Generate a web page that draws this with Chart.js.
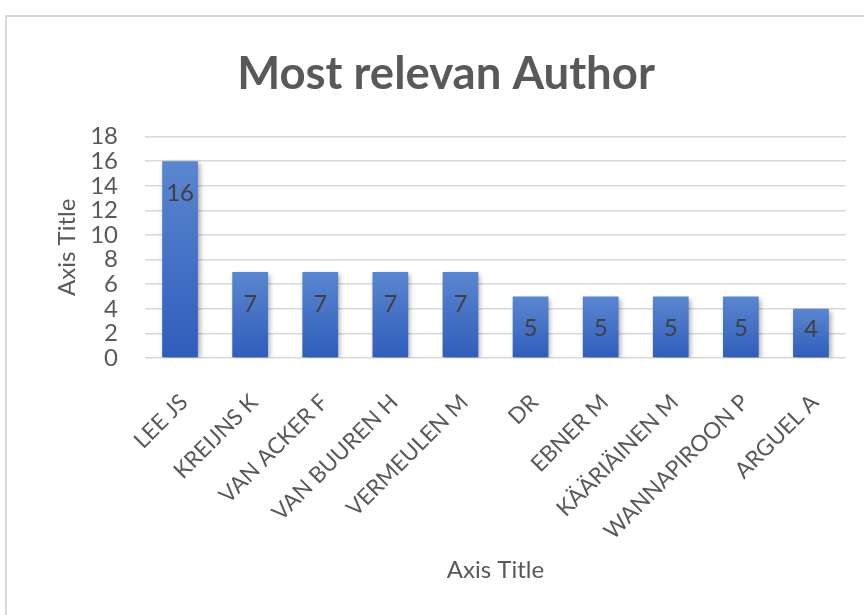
<!DOCTYPE html>
<html>
<head>
<meta charset="utf-8">
<script src="https://cdn.jsdelivr.net/npm/chart.js@4.4.1/dist/chart.umd.min.js"></script>
<style>
  html, body { margin: 0; padding: 0; background: #ffffff; overflow: hidden; }
  #frame { position: absolute; left: 5px; top: 15px; width: 900px; height: 700px;
           border: 2px solid #d9d9d9; box-sizing: border-box; }
  #wrap { position: absolute; left: 0; top: 0; width: 864px; height: 615px; }
</style>
</head>
<body>
<div id="frame"></div>
<div id="wrap"><canvas id="chart"></canvas></div>
<script>
// Authors and their document counts
const authors = ['LEE JS', 'KREIJNS K', 'VAN ACKER F', 'VAN BUUREN H', 'VERMEULEN M',
                 'DR', 'EBNER M', 'KÄÄRIÄINEN M', 'WANNAPIROON P', 'ARGUEL A'];
const documents = [16, 7, 7, 7, 7, 5, 5, 5, 5, 4];

// Value axis range
const yMin = 0;
const yMax = 18;
const yStep = 2;

const FONT = 'Lato, "Open Sans", sans-serif';
const TEXT = '#595959';

// Vertical gradient for each bar, from its top down to the baseline
function barGradient(ctx) {
  const chart = ctx.chart;
  const y = chart.scales.y;
  if (!y || ctx.type !== 'data') return '#4472c4';
  const top = y.getPixelForValue(ctx.parsed.y);
  const base = y.getPixelForValue(0);
  if (!isFinite(top) || !isFinite(base) || top === base) return '#4472c4';
  const g = chart.ctx.createLinearGradient(0, top, 0, base);
  g.addColorStop(0, '#5b86d0');
  g.addColorStop(1, '#2f5dbb');
  return g;
}

// Soft shadow behind the bars
const barShadow = {
  id: 'barShadow',
  beforeDatasetsDraw(chart) {
    const c = chart.ctx;
    c.save();
    c.shadowColor = 'rgba(0,0,0,0.35)';
    c.shadowBlur = 5;
    c.shadowOffsetX = 2;
    c.shadowOffsetY = 2;
  },
  afterDatasetsDraw(chart) {
    chart.ctx.restore();
  }
};

// Value labels near the inside end of each bar
const valueLabels = {
  id: 'valueLabels',
  afterDatasetsDraw(chart) {
    const c = chart.ctx;
    const meta = chart.getDatasetMeta(0);
    const values = chart.data.datasets[0].data;
    c.save();
    c.font = '24px ' + FONT;
    c.fillStyle = '#404040';
    c.textAlign = 'center';
    c.textBaseline = 'middle';
    meta.data.forEach((bar, i) => {
      const y = Math.min(bar.y + 32, bar.base - 28);
      c.fillText(String(values[i]), bar.x, y);
    });
    c.restore();
  }
};

new Chart(document.getElementById('chart'), {
  type: 'bar',
  data: {
    labels: authors,
    datasets: [{
      data: documents,
      backgroundColor: barGradient,
      borderWidth: 0,
      categoryPercentage: 1,
      barPercentage: 0.51
    }]
  },
  plugins: [barShadow, valueLabels],
  options: {
    responsive: true,
    maintainAspectRatio: false,
    animation: false,
    devicePixelRatio: 1,
    layout: { padding: { left: 46, right: 18, top: 0, bottom: 0 } },
    plugins: {
      legend: { display: false },
      tooltip: { enabled: false },
      title: {
        display: true,
        text: 'Most relevan Author',
        color: TEXT,
        font: { family: FONT, size: 45.5, weight: 'bold', lineHeight: 1.2 },
        padding: { top: 47, bottom: 35 }
      }
    },
    scales: {
      x: {
        grid: { display: false, drawTicks: false },
        border: { display: false },
        ticks: {
          color: TEXT,
          font: { family: FONT, size: 22.5 },
          minRotation: 45,
          maxRotation: 45,
          autoSkip: false,
          padding: 31,
          labelOffset: 4
        },
        title: {
          display: true,
          text: 'Axis Title',
          color: TEXT,
          font: { family: FONT, size: 24, lineHeight: 1.2 },
          padding: { top: 0, bottom: 30 }
        },
        afterFit(scale) { scale.height = 257; }
      },
      y: {
        min: yMin,
        max: yMax,
        grid: { color: '#d9d9d9', lineWidth: 1.5, drawTicks: false },
        border: { display: false },
        ticks: {
          stepSize: yStep,
          autoSkip: false,
          color: TEXT,
          font: { family: FONT, size: 24 },
          padding: 27
        },
        title: {
          display: true,
          text: 'Axis Title',
          color: TEXT,
          font: { family: FONT, size: 24, lineHeight: 1.2 },
          padding: { top: 7, bottom: 0 }
        },
        afterFit(scale) { scale.width = 99; }
      }
    }
  }
});
</script>
</body>
</html>
